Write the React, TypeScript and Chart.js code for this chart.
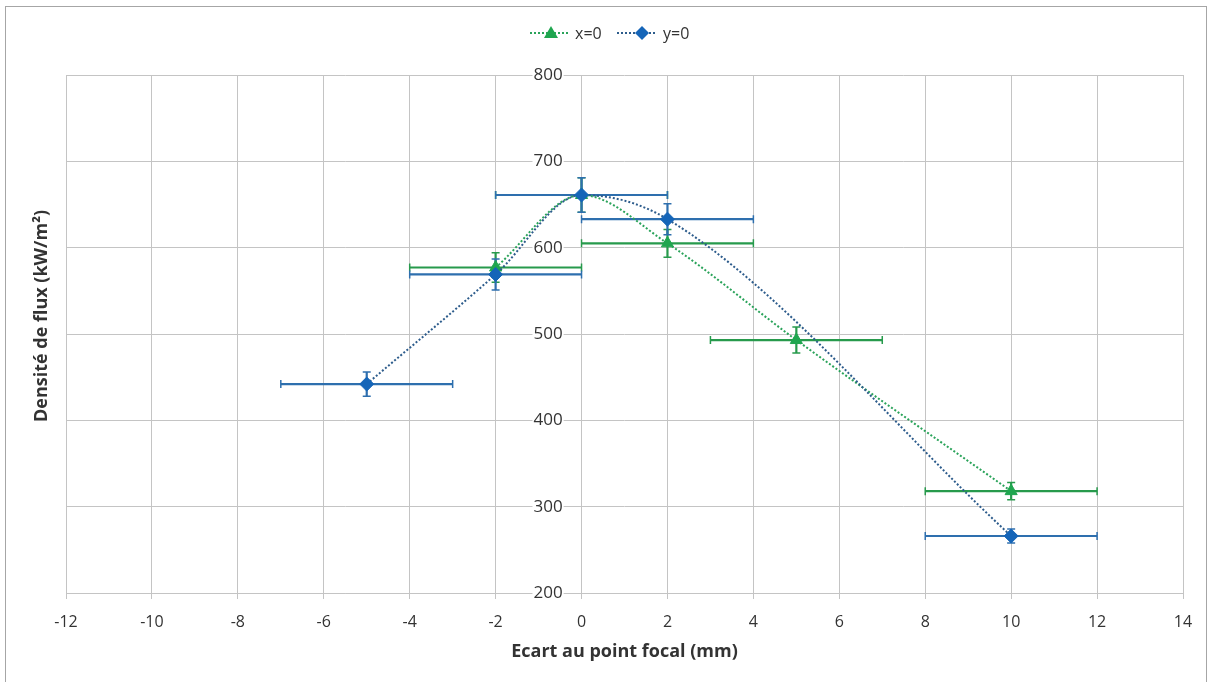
import React, { useEffect, useRef } from 'react';
import { Chart, registerables } from 'chart.js';
Chart.register(...registerables);

const seriesNames = ['x=0', 'y=0'];
const xAxisTitle = 'Ecart au point focal (mm)';
const yAxisTitle = 'Densité de flux (kW/m²)';

const greenX = [-2, 0, 2, 5, 10];
const greenY = [577, 661, 605, 493, 318];
const greenXErr = [2, 2, 2, 2, 2];
const greenYErr = [17, 20, 16, 15, 10];

const blueX = [-5, -2, 0, 2, 10];
const blueY = [442, 569, 661, 633, 266];
const blueXErr = [2, 2, 2, 2, 2];
const blueYErr = [14, 18, 20, 18, 8];

const xMin = -12, xMax = 14, xStep = 2;
const yMin = 200, yMax = 800, yStep = 100;
const yAxisAt = -0.44;

const GREEN = '#1fa64f';
const GREEN_LINE = '#2aa35a';
const GREEN_BAR = '#279a4c';
const BLUE = '#1565b8';
const BLUE_LINE = '#2d5c8c';
const BLUE_BAR = '#2e6fae';
const GRID = '#c4c4c4';
const TEXT = '#333333';
const FONT = '"Open Sans", "Liberation Sans", sans-serif';

const errorSets = [
  { xs: greenX, ys: greenY, xe: greenXErr, ye: greenYErr, color: GREEN_BAR },
  { xs: blueX, ys: blueY, xe: blueXErr, ye: blueYErr, color: BLUE_BAR },
];

const errorBarPlugin = {
  id: 'errorBars',
  beforeDatasetsDraw(chart: any) {
    const { ctx, scales } = chart;
    const sx = scales.x, sy = scales.y;
    ctx.save();
    for (const s of errorSets) {
      ctx.strokeStyle = s.color;
      for (let i = 0; i < s.xs.length; i++) {
        const px = sx.getPixelForValue(s.xs[i]);
        const py = sy.getPixelForValue(s.ys[i]);
        const x1 = sx.getPixelForValue(s.xs[i] - s.xe[i]);
        const x2 = sx.getPixelForValue(s.xs[i] + s.xe[i]);
        const y1 = sy.getPixelForValue(s.ys[i] + s.ye[i]);
        const y2 = sy.getPixelForValue(s.ys[i] - s.ye[i]);
        ctx.lineWidth = 2.2;
        ctx.beginPath();
        ctx.moveTo(x1, py); ctx.lineTo(x2, py);
        ctx.moveTo(px, y1); ctx.lineTo(px, y2);
        ctx.stroke();
        ctx.lineWidth = 1.5;
        ctx.beginPath();
        ctx.moveTo(x1, py - 4); ctx.lineTo(x1, py + 4);
        ctx.moveTo(x2, py - 4); ctx.lineTo(x2, py + 4);
        ctx.moveTo(px - 4, y1); ctx.lineTo(px + 4, y1);
        ctx.moveTo(px - 4, y2); ctx.lineTo(px + 4, y2);
        ctx.stroke();
      }
    }
    ctx.restore();
  },
};

const decorPlugin = {
  id: 'decor',
  afterDraw(chart: any) {
    const { ctx, chartArea } = chart;
    ctx.save();
    ctx.strokeStyle = '#a6a6a6';
    ctx.lineWidth = 1;
    ctx.strokeRect(5.5, 6.5, 1201, 690);
    ctx.fillStyle = TEXT;
    ctx.font = `bold 18px ${FONT}`;
    ctx.textAlign = 'center';
    ctx.textBaseline = 'middle';
    ctx.fillText(xAxisTitle, (chartArea.left + chartArea.right) / 2, 652);
    ctx.save();
    ctx.translate(42, 316);
    ctx.rotate(-Math.PI / 2);
    ctx.fillText(yAxisTitle, 0, 0);
    ctx.restore();
    const items = [
      { name: seriesNames[0], color: GREEN_LINE, mark: GREEN, style: 'tri', x0: 530, x1: 569, mx: 551, tx: 575 },
      { name: seriesNames[1], color: BLUE_LINE, mark: BLUE, style: 'dia', x0: 617, x1: 656, mx: 642, tx: 663 },
    ];
    const ly = 33;
    ctx.font = `16px ${FONT}`;
    ctx.textAlign = 'left';
    for (const it of items) {
      ctx.strokeStyle = it.color;
      ctx.lineWidth = 2;
      ctx.setLineDash([2, 2]);
      ctx.beginPath();
      ctx.moveTo(it.x0, ly); ctx.lineTo(it.x1, ly);
      ctx.stroke();
      ctx.setLineDash([]);
      ctx.fillStyle = it.mark;
      ctx.beginPath();
      if (it.style === 'tri') {
        ctx.moveTo(it.mx, ly - 7); ctx.lineTo(it.mx + 7, ly + 5); ctx.lineTo(it.mx - 7, ly + 5);
      } else {
        ctx.moveTo(it.mx, ly - 7); ctx.lineTo(it.mx + 7, ly); ctx.lineTo(it.mx, ly + 7); ctx.lineTo(it.mx - 7, ly);
      }
      ctx.closePath();
      ctx.fill();
      ctx.fillStyle = TEXT;
      ctx.fillText(it.name, it.tx, ly + 1);
    }
    ctx.restore();
  },
};

export default function App() {
  const ref = useRef<HTMLCanvasElement | null>(null);
  useEffect(() => {
    document.body.style.margin = '0';
    const canvas = ref.current!;
    const chart = new Chart(canvas, {
      type: 'scatter',
      data: {
        datasets: [
          {
            label: seriesNames[0],
            data: greenX.map((x, i) => ({ x, y: greenY[i] })),
            showLine: true,
            cubicInterpolationMode: 'monotone',
            borderColor: GREEN_LINE,
            borderWidth: 2,
            borderDash: [2, 2],
            pointStyle: 'triangle',
            pointRadius: 7,
            pointBackgroundColor: GREEN,
            pointBorderColor: GREEN,
            pointBorderWidth: 1,
            order: 1,
          },
          {
            label: seriesNames[1],
            data: blueX.map((x, i) => ({ x, y: blueY[i] })),
            showLine: true,
            cubicInterpolationMode: 'monotone',
            borderColor: BLUE_LINE,
            borderWidth: 2,
            borderDash: [2, 2],
            pointStyle: 'rectRot',
            pointRadius: 7,
            pointBackgroundColor: BLUE,
            pointBorderColor: BLUE,
            pointBorderWidth: 1,
            order: 0,
          },
        ],
      },
      options: {
        responsive: false,
        animation: false,
        locale: 'en-US',
        layout: { padding: { left: 66, right: 27, top: 75, bottom: 0 } },
        plugins: { legend: { display: false }, tooltip: { enabled: false } },
        scales: {
          x: {
            type: 'linear',
            position: 'bottom',
            min: xMin,
            max: xMax,
            ticks: { stepSize: xStep, color: TEXT, font: { family: FONT, size: 16 }, padding: 14 },
            grid: { color: GRID, lineWidth: 1, tickLength: 6, drawTicks: true },
            border: { color: GRID },
            afterFit: (s: any) => { s.height = 89; },
          },
          y: {
            type: 'linear',
            position: { x: yAxisAt } as any,
            min: yMin,
            max: yMax,
            ticks: {
              stepSize: yStep, color: TEXT, font: { family: FONT, size: 17 }, padding: 0,
              showLabelBackdrop: true, backdropColor: '#ffffff', backdropPadding: { x: 1, y: 0, top: 0, bottom: 0, left: 1, right: 1 },
            },
            grid: { color: GRID, lineWidth: 1, drawTicks: false },
            border: { display: false },
          },
        },
      },
      plugins: [errorBarPlugin, decorPlugin],
    } as any);
    return () => chart.destroy();
  }, []);
  return <canvas ref={ref} width={1210} height={682} style={{ display: 'block' }} />;
}
